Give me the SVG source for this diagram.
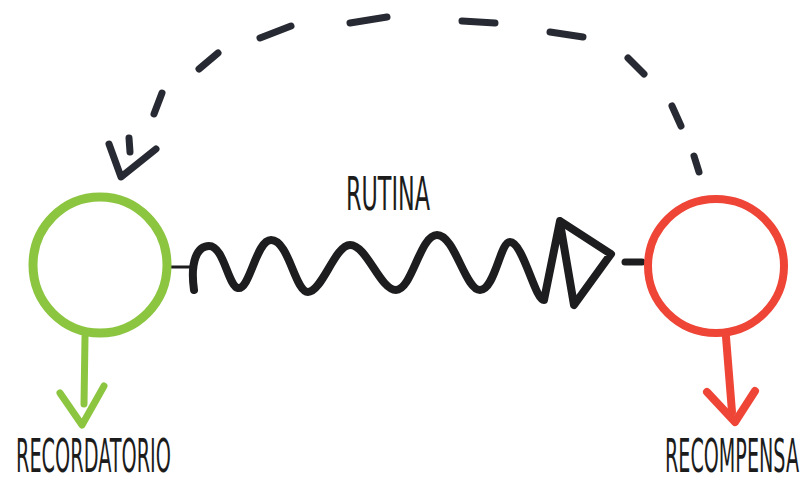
<svg xmlns="http://www.w3.org/2000/svg" width="806" height="483" viewBox="0 0 806 483">
<style>
.lbl{font-family:"Liberation Sans Narrow","DejaVu Sans Condensed","Liberation Sans",sans-serif;font-size:24px;fill:#1c1c1c;text-transform:uppercase}
.ink{fill:none;stroke:#1d1d1f;stroke-linecap:round;stroke-linejoin:round}
.dash{fill:none;stroke:#272a33;stroke-width:7;stroke-linecap:round}
.green{fill:none;stroke:#8cc540;stroke-linecap:round;stroke-linejoin:round}
.red{fill:none;stroke:#ef4537;stroke-linecap:round;stroke-linejoin:round}
</style>
<rect width="806" height="483" fill="#ffffff"/>
<g id="connectors">
  <g id="routine-connector">
    <path class="ink" stroke-width="3" d="M168,267 H191"/>
    <path class="ink" stroke-width="8" d="M194,290 C190,262 197,246 209,246 C224,246 228,286 238,288 C250,290 256,240 271,240 C289,240 295,292 308,292 C322,292 335,245 350,245 C367,245 380,290 396,290 C412,290 420,235 437,235 C455,235 465,290 480,290 C495,290 500,242 510,242 C523,242 535,300 544,300 L560,221 L611,254 L574,305 L560,223"/>
    <path class="ink" stroke-width="7" d="M625,262 H642"/>
  </g>
  <g id="feedback-connector">
    <line class="dash" x1="694" y1="156" x2="699" y2="172"/>
    <line class="dash" x1="672" y1="106" x2="681" y2="126"/>
    <line class="dash" x1="628" y1="58" x2="644" y2="74"/>
    <line class="dash" x1="550" y1="32" x2="583" y2="37"/>
    <line class="dash" x1="462" y1="21" x2="495" y2="23"/>
    <line class="dash" x1="350" y1="23" x2="387" y2="17"/>
    <line class="dash" x1="260" y1="38" x2="291" y2="26"/>
    <line class="dash" x1="199" y1="69" x2="218" y2="53"/>
    <line class="dash" x1="154" y1="114" x2="162" y2="93"/>
    <line class="dash" x1="129" y1="138" x2="130" y2="152"/>
    <polyline class="dash" stroke-linejoin="round" points="109,144 121,177 156,149"/>
  </g>
</g>
<g id="node-recordatorio">
  <ellipse class="green" stroke-width="9" cx="100" cy="265" rx="67" ry="68"/>
  <path class="green" stroke-width="7" d="M85,337 L84,404"/>
  <polyline class="green" stroke-width="7" points="60,393 82,425 104,386"/>
  <text class="lbl" transform="translate(16,472) scale(1,1.92)" x="0" y="0" textLength="155" lengthAdjust="spacingAndGlyphs">Recordatorio</text>
</g>
<g id="node-rutina">
  <text class="lbl" transform="translate(346,210) scale(1,1.95)" x="0" y="0" textLength="84" lengthAdjust="spacingAndGlyphs">Rutina</text>
</g>
<g id="node-recompensa">
  <ellipse class="red" stroke-width="8" cx="716" cy="266" rx="68" ry="67"/>
  <path class="red" stroke-width="8" d="M726,337 L732,412"/>
  <polyline class="red" stroke-width="8" points="707,392 735,422 755,391"/>
  <text class="lbl" style="font-size:21px" transform="translate(665,472) scale(1,2.18)" x="0" y="0" textLength="134" lengthAdjust="spacingAndGlyphs">Recompensa</text>
</g>
</svg>
